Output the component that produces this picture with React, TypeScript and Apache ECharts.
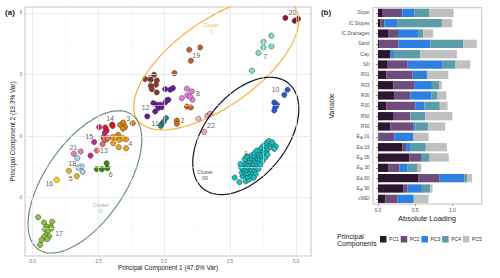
import { useEffect, useRef } from "react";
import * as echarts from "echarts";

// ---------------- Panel (a): PCA scores ----------------
const xTicksA = [-5, -2.5, 0, 2.5, 5];
const yTicksA = [-3, 0, 3, 6];
const xMinorA = [-3.75, -1.25, 1.25, 3.75];
const yMinorA = [-4.5, -1.5, 1.5, 4.5];

const g1 = [
  [2.68, -2.02], [2.86, -2.24], [3.1, -2.2], [3.22, -2.12], [2.98, -1.96], [3.08, -1.9], [3.18, -1.96], [3.3, -1.92],
  [2.95, -1.78], [3.05, -1.74], [3.15, -1.8], [3.26, -1.76], [3.38, -1.8], [3.0, -1.6], [3.12, -1.64], [3.22, -1.6],
  [3.32, -1.64], [3.44, -1.66], [3.04, -1.46], [3.16, -1.5], [3.26, -1.46], [3.36, -1.5], [3.48, -1.52], [3.1, -1.32],
  [3.2, -1.36], [3.3, -1.32], [3.4, -1.36], [3.52, -1.38], [3.16, -1.2], [3.26, -1.22], [3.36, -1.18], [3.46, -1.22],
  [3.58, -1.24], [3.24, -1.06], [3.34, -1.08], [3.44, -1.04], [3.54, -1.08], [3.64, -1.12], [3.32, -0.94], [3.42, -0.96],
  [3.52, -0.92], [3.62, -0.96], [3.72, -1.0], [3.44, -0.82], [3.56, -0.8], [3.66, -0.84], [3.78, -0.88], [3.52, -0.7],
  [3.64, -0.68], [3.76, -0.72], [3.86, -0.76], [3.7, -0.56], [3.82, -0.6], [3.94, -0.62], [3.8, -0.44], [3.92, -0.48],
  [4.04, -0.52], [3.9, -0.32], [4.02, -0.36], [4.14, -0.42], [3.98, -0.24], [4.1, -0.3], [4.24, -0.5], [4.18, -0.62],
  [2.92, -1.52], [2.9, -1.36], [3.58, -1.6], [3.66, -1.4], [3.74, -1.2], [3.06, -1.12], [3.14, -0.98], [3.84, -1.04],
  [3.92, -0.9], [3.48, -1.86], [3.4, -2.02],
];
const g2 = [[0.49, 0.76], [0.49, 0.6], [0.87, 1.44], [1.02, 1.4]];
const g3 = [[-1.66, 0.55], [-1.54, 0.66], [-1.47, 0.45], [-1.18, 0.63], [-1.73, 0.06], [-1.55, 0.36]];
const g4 = [[-1.94, -0.05], [-1.81, -0.05], [-1.69, -0.18], [-1.92, -0.34], [-1.43, -0.15], [-1.71, -0.54], [-1.43, -0.59], [-1.55, -0.1]];
const g5 = [[-3.6, -1.69], [-3.3, -1.95]];
const g6 = [[-2.54, -1.61], [-2.35, -1.61], [-2.14, -1.56], [-2.17, -1.32]];
const g7 = [[4.07, 4.89], [3.77, 4.59], [4.07, 4.37], [3.77, 4.32], [3.58, 4.05], [3.33, 3.19]];
const g8 = [[0.87, 2.31], [1.06, 2.18], [0.89, 1.98], [1.08, 1.77], [0.68, 1.85], [0.99, 1.92]];
const g9 = [[-0.71, 2.78], [-0.37, 2.99], [-0.27, 2.71], [-0.5, 2.45], [-0.3, 2.5], [-0.46, 2.29], [-0.27, 2.13], [-0.5, 2.75]];
const g10 = [[4.68, 2.26], [4.56, 2.01], [4.18, 1.64], [4.28, 1.53], [4.22, 1.41], [4.18, 1.25]];
const g11 = [[-0.08, 0.59], [0.08, 0.88], [-0.12, 0.5], [-0.01, 0.7]];
const g12 = [
  [0.05, 2.29], [0.24, 2.26], [0.34, 2.34], [-0.4, 1.61], [-0.27, 1.53], [-0.21, 1.37], [-0.08, 1.41],
  [0.05, 1.64], [0.11, 1.74], [0.17, 1.77], [-0.33, 1.2], [-0.63, 0.96], [-0.14, 1.53],
];
const g13 = [[-2.54, -0.7], [-2.29, -0.05], [-2.32, -0.39], [-2.19, -0.18], [-2.27, -0.13], [-2.12, -0.1]];
const g14 = [[-2.22, 0.42], [-2.17, 0.27], [-1.96, 0.56], [-1.94, 0.49]];
const g15 = [[-2.45, 0.44], [-2.64, -0.29], [-2.78, -0.95], [-2.24, 0.16]];
const g16 = [[-4.06, -2.13]];
const g17 = [
  [-4.76, -3.95], [-4.54, -4.21], [-4.23, -4.17], [-4.44, -4.41], [-4.29, -4.41], [-4.51, -4.54], [-4.38, -4.6],
  [-4.25, -4.49], [-4.47, -4.83], [-4.34, -4.88], [-4.54, -4.9], [-4.63, -5.06], [-4.42, -5.02], [-4.69, -5.3],
];
const g18 = [[-3.28, -1.07], [-3.11, -1.48], [-3.24, -1.53], [-3.08, -1.74]];
const g19 = [[0.96, 4.21], [1.37, 4.32], [1.02, 3.67], [0.4, 3.07]];
const g20 = [[4.6, 5.76], [4.95, 5.62], [5.08, 5.71]];
const g21 = [[-3.41, -0.86], [-3.15, -0.75]];
const g22 = [[1.31, 0.84], [1.65, 0.99], [1.75, 1.09], [1.52, 0.2]];

const groups = [g1, g2, g3, g4, g5, g6, g7, g8, g9, g10, g11, g12, g13, g14, g15, g16, g17, g18, g19, g20, g21, g22];
const groupNames = ["1", "2", "3", "4", "5", "6", "7", "8", "9", "10", "11", "12", "13", "14", "15", "16", "17", "18", "19", "20", "21", "22"];
const groupColors = [
  "#19c2c2", "#d2691e", "#d98b00", "#f5a20f", "#e8b70f", "#3d8c0d", "#72e5c0", "#e87de0", "#8c3a2b", "#2a5bd7", "#2e7d7d",
  "#6a1b9a", "#f26b5b", "#e31a1c", "#d01c8b", "#f2e600", "#8cc63f", "#a8d8ee", "#cc5a28", "#8e0c4e", "#ec7fa9", "#f2a5b3",
];
const groupLabelPos = [
  [3.11, -0.83], [0.7, 0.75], [-1.35, 0.88], [-1.28, -0.34], [-3.53, -2.07], [-2.01, -1.89], [3.84, 3.88], [1.29, 2.06],
  [-0.55, 2.86], [4.23, 2.29], [-0.33, 0.6], [-0.69, 1.4], [-2.27, -0.7], [-2.04, 0.88], [-2.83, -0.02], [-4.34, -2.33],
  [-3.97, -4.73], [-3.47, -1.34], [1.22, 3.93], [4.87, 6.03], [-3.43, -0.54], [1.78, 0.52],
];

const clusterNumerals = ["I", "II", "III"];
const clusterLabelPos = [[1.79, 5.26], [-2.39, -3.51], [1.56, -1.89]];
const clusterCenters = [[1.98, 3.53], [-2.99, -2.23], [3.1, 0.01]];
const clusterAxisA = [[2.98, 2.74], [1.78, 3.27], [1.61, 2.57]];
const clusterAxisB = [[0.94, -1.7], [1.21, -1.15], [1.2, -1.25]];
const clusterLineColors = ["#f2b233", "#6b8f80", "#0f1626"];
const clusterTextColors = ["#f0a41c", "#7a9a8c", "#111111"];

// ---------------- Panel (b): loadings ----------------
const categories = [
  "Slope", "IC Slopes", "IC Drainages", "Sand", "Clay", "Silt", "R01", "R03", "R06", "R30", "R60", "R90",
  "EIA 01", "EIA 03", "EIA 06", "EIA 30", "EIA 60", "EIA 90", "xWEI",
];
const pc1 = [0.065, 0.033, 0.145, 0.016, 0.163, 0.122, 0.113, 0.209, 0.225, 0.113, 0.213, 0.166, 0.005, 0.33, 0.422, 0.144, 0.547, 0.344, 0.099];
const pc2 = [0.263, 0.054, 0.125, 0.259, 0.004, 0.278, 0.353, 0.277, 0.21, 0.389, 0.222, 0.314, 0.218, 0.049, 0.161, 0.146, 0.282, 0.054, 0.166];
const pc3 = [0.165, 0.179, 0.268, 0.428, 0.036, 0.47, 0.192, 0.239, 0.282, 0.121, 0.003, 0.022, 0.248, 0.053, 0.009, 0.109, 0.331, 0.192, 0.215];
const pc4 = [0.201, 0.593, 0.071, 0.442, 0.367, 0.173, 0.009, 0.099, 0.076, 0.208, 0.198, 0.173, 0.009, 0.211, 0.103, 0.134, 0.04, 0.111, 0.003];
const pc5 = [0.322, 0.139, 0.134, 0.183, 0.491, 0.199, 0.28, 0.034, 0.126, 0.104, 0.363, 0.229, 0.201, 0.284, 0.256, 0.049, 0.063, 0.033, 0.198];
const pcNames = ["PC1", "PC2", "PC3", "PC4", "PC5"];
const pcValues = [pc1, pc2, pc3, pc4, pc5];
const pcColors = ["#2d1532", "#6f4c7c", "#2d7fe0", "#5a9ca8", "#c0c0c0"];
const xTicksB = [0, 0.5, 1.0];

const FONT = "Liberation Sans, Arial, Helvetica, sans-serif";

function ellipse(i: number) {
  const c = clusterCenters[i], a = clusterAxisA[i], b = clusterAxisB[i];
  const pts: number[][] = [];
  for (let k = 0; k <= 144; k++) {
    const t = (k / 144) * Math.PI * 2;
    pts.push([c[0] + a[0] * Math.cos(t) + b[0] * Math.sin(t), c[1] + a[1] * Math.cos(t) + b[1] * Math.sin(t)]);
  }
  return pts;
}

function buildOption(): any {
  const gridLines: any[] = [
    ...xMinorA.map((v) => ({ xAxis: v, lineStyle: { color: "#f2f2f2", width: 0.5, type: "solid" } })),
    ...yMinorA.map((v) => ({ yAxis: v, lineStyle: { color: "#f2f2f2", width: 0.5, type: "solid" } })),
    ...xTicksA.map((v) => ({ xAxis: v, lineStyle: { color: "#e4e4e4", width: 0.7, type: "solid" } })),
    ...yTicksA.map((v) => ({ yAxis: v, lineStyle: { color: "#e4e4e4", width: 0.7, type: "solid" } })),
  ];

  const series: any[] = [];
  series.push({
    type: "line",
    xAxisIndex: 0,
    yAxisIndex: 0,
    data: [],
    silent: true,
    z: 0,
    markLine: { silent: true, symbol: ["none", "none"], label: { show: false }, animation: false, data: gridLines },
  });

  groups.forEach((g, i) => {
    series.push({
      type: "scatter",
      name: "G" + groupNames[i],
      xAxisIndex: 0,
      yAxisIndex: 0,
      data: g,
      symbolSize: 5.3,
      itemStyle: { color: groupColors[i], borderColor: "#2a2a2a", borderWidth: 0.45, opacity: 1 },
      z: 3,
      silent: true,
    });
  });

  clusterCenters.forEach((_, i) => {
    series.push({
      type: "line",
      xAxisIndex: 0,
      yAxisIndex: 0,
      data: ellipse(i),
      showSymbol: false,
      symbol: "none",
      clip: true,
      silent: true,
      lineStyle: { color: clusterLineColors[i], width: 1.2 },
      z: 4,
    });
  });

  series.push({
    type: "scatter",
    xAxisIndex: 0,
    yAxisIndex: 0,
    symbolSize: 0,
    silent: true,
    z: 6,
    data: groupLabelPos.map((p, i) => [p[0], p[1], groupNames[i]]),
    label: {
      show: true,
      position: "inside",
      formatter: (p: any) => p.value[2],
      fontSize: 7,
      color: "#333333",
      fontFamily: FONT,
    },
  });

  series.push({
    type: "scatter",
    xAxisIndex: 0,
    yAxisIndex: 0,
    symbolSize: 0,
    silent: true,
    z: 6,
    data: clusterLabelPos.map((p, i) => ({
      value: [p[0], p[1]],
      label: {
        formatter: "{c|Cluster}\n{n|" + clusterNumerals[i] + "}",
        rich: {
          c: { fontSize: 5, color: clusterTextColors[i], fontFamily: FONT, lineHeight: 6, align: "center" },
          n: { fontSize: 6, color: clusterTextColors[i], fontFamily: "Liberation Serif, serif", lineHeight: 6.5, align: "center" },
        },
      },
    })),
    label: { show: true, position: "inside", align: "center" },
  });

  pcValues.forEach((vals, i) => {
    series.push({
      type: "bar",
      name: pcNames[i],
      xAxisIndex: 1,
      yAxisIndex: 1,
      stack: "loading",
      data: vals,
      barCategoryGap: "20%",
      itemStyle: { color: pcColors[i] },
      silent: true,
    });
  });

  const txt = (text: string, x: number, y: number, size: number, extra: any = {}) => ({
    type: "text",
    x,
    y,
    rotation: extra.rotation || 0,
    style: {
      text,
      fontSize: size,
      fontFamily: FONT,
      fontWeight: extra.bold ? "bold" : "normal",
      fill: extra.fill || "#1a1a1a",
      align: extra.align || "center",
      verticalAlign: "middle",
      lineHeight: extra.lineHeight,
    },
  });

  return {
    animation: false,
    backgroundColor: "#ffffff",
    textStyle: { fontFamily: FONT },
    grid: [
      { left: 25, top: 7, width: 286, height: 249, show: true, borderColor: "#b5b5b5", borderWidth: 0.8, backgroundColor: "transparent", outerBoundsMode: "none" },
      { left: 373, top: 7.7, width: 108.7, height: 196.3, show: true, borderColor: "#b0b0b0", borderWidth: 0.8, backgroundColor: "transparent", outerBoundsMode: "none" },
    ],
    xAxis: [
      {
        type: "value",
        gridIndex: 0,
        min: -5.26,
        max: 5.57,
        splitLine: { show: false },
        axisLine: { show: false },
        axisTick: { show: true, customValues: xTicksA, length: 2, lineStyle: { color: "#9a9a9a", width: 0.6 } },
        axisLabel: { customValues: xTicksA, formatter: (v: number) => v.toFixed(1), fontSize: 4.7, color: "#7a7a7a", margin: 3.2 },
      },
      {
        type: "value",
        gridIndex: 1,
        min: -0.066,
        max: 1.394,
        splitLine: { show: false },
        axisLine: { show: false },
        axisTick: { show: true, customValues: xTicksB, length: 2, lineStyle: { color: "#555", width: 0.6 } },
        axisLabel: { customValues: xTicksB, formatter: (v: number) => v.toFixed(1), fontSize: 5, color: "#555555", margin: 3.2 },
      },
    ],
    yAxis: [
      {
        type: "value",
        gridIndex: 0,
        min: -5.84,
        max: 6.29,
        splitLine: { show: false },
        axisLine: { show: false },
        axisTick: { show: true, customValues: yTicksA, length: 2, lineStyle: { color: "#9a9a9a", width: 0.6 } },
        axisLabel: { customValues: yTicksA, formatter: (v: number) => String(v), fontSize: 4.7, color: "#7a7a7a", margin: 3 },
      },
      {
        type: "category",
        gridIndex: 1,
        data: categories,
        inverse: true,
        axisLine: { show: false },
        axisTick: { show: true, alignWithLabel: true, length: 2, lineStyle: { color: "#555", width: 0.6 } },
        axisLabel: {
          fontSize: 4.8,
          color: "#555555",
          margin: 3.5,
          interval: 0,
          formatter: (v: string) => (v.startsWith("EIA") ? "E{sub|IA}" + v.slice(3) : v),
          rich: { sub: { fontSize: 3.4, color: "#555555", padding: [2.2, 0, 0, 0] } },
        },
      },
    ],
    legend: {
      data: pcNames,
      left: 380,
      top: 236,
      itemWidth: 6.5,
      itemHeight: 6.5,
      itemGap: 1.8,
      padding: 0,
      icon: "rect",
      selectedMode: false,
      textStyle: { fontSize: 5.1, color: "#333", fontFamily: FONT, padding: [0, 0, 0, -2.5] },
    },
    graphic: [
      txt("(a)", 10, 12.5, 8, { bold: true }),
      txt("(b)", 326, 12, 8, { bold: true }),
      txt("Principal Component 1 (47.6% Var)", 168, 267.5, 6.4),
      txt("Principal Component 2 (19.3% Var)", 12.5, 131.5, 6.4, { rotation: Math.PI / 2 }),
      txt("Absolute Loading", 427, 218.5, 7.5),
      txt("Variable", 331, 106, 7, { rotation: Math.PI / 2 }),
      txt("Principal\nComponents", 337, 239.7, 7, { align: "left", lineHeight: 7.4 }),
    ],
    series,
  };
}

export default function App() {
  const ref = useRef<HTMLDivElement>(null);
  useEffect(() => {
    if (!ref.current) return;
    const chart = echarts.init(ref.current, null, { renderer: "svg" });
    chart.setOption(buildOption());
    return () => chart.dispose();
  }, []);
  return (
    <div
      ref={ref}
      style={{ position: "fixed", left: 0, top: 0, width: 500, height: 278, background: "#ffffff" }}
    />
  );
}
